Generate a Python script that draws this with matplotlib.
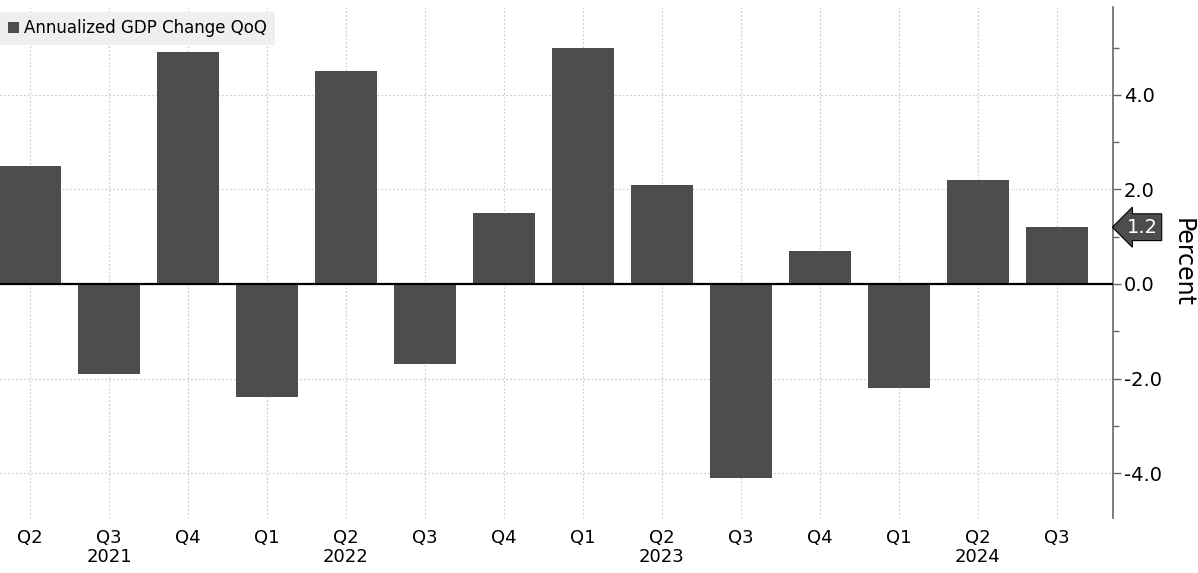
import numpy as np
import matplotlib.pyplot as plt
from matplotlib.patches import Patch
from matplotlib.ticker import MultipleLocator

plt.rcParams['font.family'] = ['DejaVu Sans']

# Data
quarters = ['Q2', 'Q3', 'Q4', 'Q1', 'Q2', 'Q3', 'Q4', 'Q1', 'Q2', 'Q3', 'Q4', 'Q1', 'Q2', 'Q3']
years = [2021, 2021, 2021, 2022, 2022, 2022, 2022, 2023, 2023, 2023, 2023, 2024, 2024, 2024]
gdp_change = [2.5, -1.9, 4.9, -2.4, 4.5, -1.7, 1.5, 5.0, 2.1, -4.1, 0.7, -2.2, 2.2, 1.2]
year_label_idx = {1: '2021', 4: '2022', 8: '2023', 12: '2024'}
series_name = 'Annualized GDP Change QoQ'

bar_color = '#4d4d4d'
x = np.arange(len(gdp_change))

fig = plt.figure(figsize=(11.98, 5.73), dpi=100)
ax = fig.add_axes([0.0, 0.096, 0.929, 0.892])

ax.bar(x, gdp_change, width=0.78, color=bar_color, zorder=3)
ax.axhline(0, color='black', lw=1.6, zorder=4)

ax.set_xlim(-0.38, 13.71)
ax.set_ylim(-4.95, 5.86)

# x ticks with years under the middle quarter
labels = [q + ('\n' + year_label_idx[i] if i in year_label_idx else '') for i, q in enumerate(quarters)]
ax.set_xticks(x)
ax.set_xticklabels(labels, fontsize=13, va='top', linespacing=1.05)
ax.tick_params(axis='x', length=0, pad=8)

# y axis on the right
ax.yaxis.tick_right()
ax.set_yticks([-4, -2, 0, 2, 4])
ax.set_yticklabels(['-4.0', '-2.0', '0.0', '2.0', '4.0'], fontsize=14)
ax.yaxis.set_minor_locator(MultipleLocator(1))
ax.tick_params(axis='y', which='major', length=6, width=1, color='#666666', pad=2)
ax.tick_params(axis='y', which='minor', length=4, width=1, color='#666666')
ax.set_ylabel('Percent', fontsize=17, rotation=-90, va='center', ha='center')
ax.yaxis.set_label_coords(1.063, 0.5)

for s in ['top', 'left', 'bottom']:
    ax.spines[s].set_visible(False)
ax.spines['right'].set_color('#666666')
ax.spines['right'].set_linewidth(1.2)

# dotted grid
ax.grid(True, axis='both', which='major', linestyle=(0, (1.5, 2)), color='#c8c8c8', lw=0.8, zorder=0)

# last value tag
last = gdp_change[-1]
ax.annotate(f'{last:.1f}', xy=(1.0, last), xycoords=('axes fraction', 'data'),
            xytext=(10, 0), textcoords='offset points', fontsize=14, color='white',
            va='center', ha='left',
            bbox=dict(boxstyle='larrow,pad=0.2', fc=bar_color, ec='black', lw=0.8),
            annotation_clip=False)

# legend
handle = Patch(facecolor=bar_color, edgecolor='none', label=series_name)
leg = ax.legend(handles=[handle], loc='upper left', bbox_to_anchor=(0.0, 0.99),
                fontsize=12, frameon=True, fancybox=False, handlelength=0.7,
                handleheight=0.7, handletextpad=0.3, borderpad=0.45, borderaxespad=0)
leg.get_frame().set_facecolor('#efefef')
leg.get_frame().set_edgecolor('none')
leg.get_frame().set_alpha(1)

fig.savefig('out.png', dpi=100)
